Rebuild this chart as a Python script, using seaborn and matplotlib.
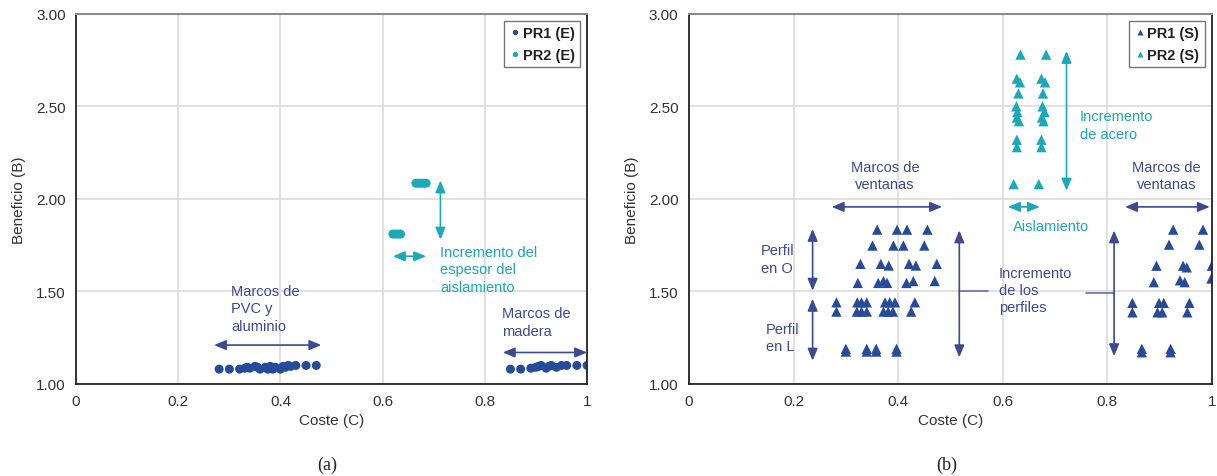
import pandas as pd
import seaborn as sns
import matplotlib.pyplot as plt

# --- data ---
# panel (a): PR1 (E) and PR2 (E)
pr1e_x = [0.28, 0.30, 0.32, 0.33, 0.335, 0.34, 0.35, 0.355, 0.36, 0.37, 0.375, 0.38, 0.385,
          0.39, 0.40, 0.405, 0.41, 0.415, 0.42, 0.43, 0.45, 0.47,
          0.85, 0.87, 0.89, 0.90, 0.905, 0.91, 0.92, 0.925, 0.93, 0.94, 0.95, 0.96, 0.98, 1.00]
pr1e_y = [1.08, 1.08, 1.08, 1.085, 1.09, 1.085, 1.095, 1.09, 1.08, 1.09, 1.08, 1.095, 1.08,
          1.09, 1.08, 1.095, 1.09, 1.10, 1.095, 1.10, 1.10, 1.10,
          1.08, 1.08, 1.085, 1.09, 1.095, 1.10, 1.085, 1.095, 1.10, 1.09, 1.10, 1.10, 1.10, 1.10]
pr2e_x = [0.620, 0.625, 0.630, 0.635, 0.665, 0.670, 0.675, 0.680, 0.685]
pr2e_y = [1.81, 1.81, 1.81, 1.81, 2.085, 2.085, 2.085, 2.085, 2.085]

# panel (b): PR1 (S) and PR2 (S)
pr1s_x = [0.360, 0.398, 0.417, 0.456,
          0.351, 0.391, 0.410, 0.450,
          0.328, 0.367, 0.382, 0.421, 0.434, 0.474,
          0.323, 0.362, 0.372, 0.379, 0.416, 0.429, 0.470,
          0.282, 0.322, 0.330, 0.340, 0.375, 0.384, 0.394, 0.432,
          0.282, 0.321, 0.330, 0.340, 0.372, 0.381, 0.390, 0.425,
          0.300, 0.340, 0.358, 0.397, 0.300, 0.340, 0.358, 0.397,
          0.926, 0.983, 0.918, 0.976,
          0.894, 0.945, 0.952, 1.000,
          0.889, 0.939, 0.948, 0.999,
          0.848, 0.899, 0.908, 0.957,
          0.848, 0.896, 0.905, 0.953,
          0.866, 0.921, 0.866, 0.921]
pr1s_y = [1.834, 1.834, 1.834, 1.834,
          1.748, 1.748, 1.748, 1.748,
          1.649, 1.649, 1.640, 1.649, 1.640, 1.649,
          1.546, 1.546, 1.556, 1.546, 1.546, 1.556, 1.556,
          1.441, 1.441, 1.441, 1.441, 1.441, 1.441, 1.441, 1.441,
          1.391, 1.391, 1.391, 1.391, 1.391, 1.391, 1.391, 1.391,
          1.175, 1.175, 1.175, 1.175, 1.19, 1.19, 1.19, 1.19,
          1.834, 1.834, 1.753, 1.753,
          1.639, 1.639, 1.630, 1.639,
          1.550, 1.560, 1.550, 1.570,
          1.438, 1.438, 1.438, 1.438,
          1.387, 1.387, 1.387, 1.387,
          1.171, 1.171, 1.19, 1.19]
pr2s_levels = [2.78, 2.65, 2.63, 2.57, 2.50, 2.47, 2.44, 2.42, 2.32, 2.28, 2.08]
pr2s_left = [0.634, 0.627, 0.633, 0.630, 0.626, 0.628, 0.627, 0.631, 0.627, 0.627, 0.621]
pr2s_right = [0.683, 0.674, 0.681, 0.677, 0.676, 0.680, 0.675, 0.678, 0.674, 0.674, 0.669]

x_ticks = [0, 0.2, 0.4, 0.6, 0.8, 1.0]
x_ticklabels = ["0", "0.2", "0.4", "0.6", "0.8", "1"]
y_ticks = [1.0, 1.5, 2.0, 2.5, 3.0]

DARK = "#264b9a"
CYAN = "#1aa9b9"
TXT = "#3b4a93"
SHAFT = "#6c6cae"
LS = 1.3

sns.set_theme(style="white")
plt.rcParams["font.family"] = ["Liberation Sans", "DejaVu Sans"]

df_a = pd.DataFrame({
    "C": pr1e_x + pr2e_x,
    "B": pr1e_y + pr2e_y,
    "Serie": ["PR1 (E)"] * len(pr1e_x) + ["PR2 (E)"] * len(pr2e_x),
})
df_b = pd.DataFrame({
    "C": pr1s_x + pr2s_left + pr2s_right,
    "B": pr1s_y + pr2s_levels + pr2s_levels,
    "Serie": ["PR1 (S)"] * len(pr1s_x) + ["PR2 (S)"] * (2 * len(pr2s_levels)),
})

fig = plt.figure(figsize=(12.17, 4.77), dpi=100)
ax_a = fig.add_axes([0.0625, 0.193, 0.4199, 0.7757])
ax_b = fig.add_axes([0.5661, 0.193, 0.4297, 0.7757])

sns.scatterplot(data=df_a, x="C", y="B", hue="Serie", palette=[DARK, CYAN],
                marker="o", s=42, edgecolor="none", ax=ax_a)
sns.scatterplot(data=df_b, x="C", y="B", hue="Serie", palette=[DARK, CYAN],
                marker="^", s=55, edgecolor="none", ax=ax_b)

for ax in (ax_a, ax_b):
    ax.set_xlim(0, 1)
    ax.set_ylim(1, 3)
    ax.set_xticks(x_ticks)
    ax.set_xticklabels(x_ticklabels)
    ax.set_yticks(y_ticks)
    ax.set_yticklabels([f"{v:.2f}" for v in y_ticks])
    ax.grid(True, color="#dcdcdc", linewidth=1.2)
    ax.set_axisbelow(True)
    ax.tick_params(direction="inout", length=7, width=1.2, colors="#222222",
                   labelsize=11, labelcolor="#333333", pad=4)
    for side in ("left", "bottom", "right"):
        ax.spines[side].set_color("#222222")
        ax.spines[side].set_linewidth(1.3)
    ax.spines["top"].set_color("#8a8a8a")
    ax.spines["top"].set_linewidth(1.5)
    ax.set_xlabel("Coste (C)", fontsize=11, color="#333333", labelpad=3)
    ax.set_ylabel("Beneficio (B)", fontsize=11, color="#333333", labelpad=7)
    leg = ax.legend(loc="upper right", frameon=True, fancybox=False, fontsize=10.5,
                    handletextpad=0.1, borderpad=0.35, handlelength=0.8,
                    markerscale=0.6, borderaxespad=0.5)
    leg.get_frame().set_edgecolor("#555555")
    leg.get_frame().set_linewidth(1.0)
    for t in leg.get_texts():
        t.set_fontweight("bold")
        t.set_color("#222222")


def darrow(ax, x0, y0, x1, y1, col):
    ax.annotate("", xy=(x1, y1), xytext=(x0, y0),
                arrowprops=dict(arrowstyle="<|-|>,head_length=0.6,head_width=0.25",
                                color=col, lw=1.2, shrinkA=0, shrinkB=0))


# panel (a) annotations
darrow(ax_a, 0.27, 1.21, 0.48, 1.21, TXT)
ax_a.text(0.303, 1.54, "Marcos de\nPVC y\naluminio", color=TXT, fontsize=10.5,
          va="top", ha="left", linespacing=LS)
darrow(ax_a, 0.835, 1.17, 1.0, 1.17, TXT)
ax_a.text(0.834, 1.42, "Marcos de\nmadera", color=TXT, fontsize=10.5,
          va="top", ha="left", linespacing=LS)
darrow(ax_a, 0.713, 2.10, 0.713, 1.78, CYAN)
darrow(ax_a, 0.62, 1.69, 0.685, 1.69, CYAN)
ax_a.text(0.712, 1.75, "Incremento del\nespesor del\naislamiento", color=CYAN,
          fontsize=10.5, va="top", ha="left", linespacing=LS)

# panel (b) annotations
darrow(ax_b, 0.273, 1.957, 0.484, 1.957, TXT)
ax_b.text(0.375, 2.21, "Marcos de\nventanas", color=TXT, fontsize=10.5,
          va="top", ha="center", linespacing=LS)
darrow(ax_b, 0.834, 1.957, 0.996, 1.957, TXT)
ax_b.text(0.913, 2.21, "Marcos de\nventanas", color=TXT, fontsize=10.5,
          va="top", ha="center", linespacing=LS)
darrow(ax_b, 0.2365, 1.838, 0.2365, 1.504, TXT)
darrow(ax_b, 0.2365, 1.46, 0.2365, 1.126, TXT)
ax_b.text(0.137, 1.675, "Perfil\nen O", color=TXT, fontsize=10.5,
          va="center", ha="left", linespacing=LS)
ax_b.text(0.147, 1.25, "Perfil\nen L", color=TXT, fontsize=10.5,
          va="center", ha="left", linespacing=LS)
darrow(ax_b, 0.517, 1.83, 0.517, 1.144, TXT)
darrow(ax_b, 0.813, 1.83, 0.813, 1.15, TXT)
ax_b.plot([0.518, 0.572], [1.504, 1.504], color=SHAFT, lw=1.2)
ax_b.plot([0.760, 0.813], [1.49, 1.49], color=SHAFT, lw=1.2)
ax_b.text(0.593, 1.64, "Incremento\nde los\nperfiles", color=TXT, fontsize=10.5,
          va="top", ha="left", linespacing=LS)
darrow(ax_b, 0.722, 2.80, 0.722, 2.045, CYAN)
ax_b.text(0.748, 2.40, "Incremento\nde acero", color=CYAN, fontsize=10.5,
          va="center", ha="left", linespacing=LS)
darrow(ax_b, 0.61, 1.957, 0.671, 1.957, CYAN)
ax_b.text(0.692, 1.856, "Aislamiento", color=CYAN, fontsize=10.5,
          va="center", ha="center")

# captions
fig.text(327 / 1217, 1 - 465 / 477, "(a)", family=["Liberation Serif", "DejaVu Serif"],
         fontsize=13, ha="center", va="center", color="#222222")
fig.text(947 / 1217, 1 - 465 / 477, "(b)", family=["Liberation Serif", "DejaVu Serif"],
         fontsize=13, ha="center", va="center", color="#222222")

fig.savefig("out.png", dpi=100)
